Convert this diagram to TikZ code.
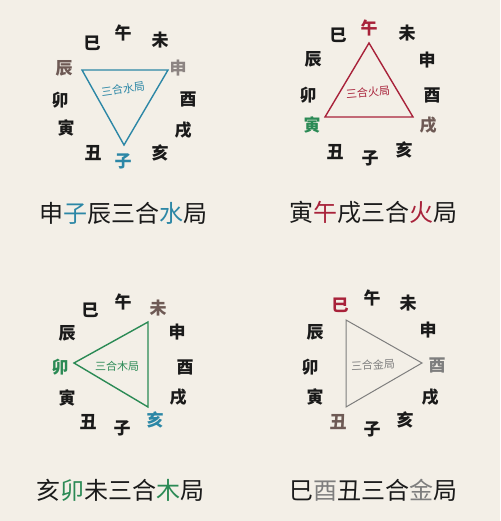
\documentclass[tikz,border=0pt]{standalone}
\usepackage{fontspec}
\newfontfamily\cjk{Noto Sans CJK SC}
\definecolor{bg}{HTML}{F3EFE7}
\definecolor{water}{HTML}{2C87A6}
\definecolor{fire}{HTML}{A8223A}
\definecolor{wood}{HTML}{2B8A55}
\definecolor{metal}{HTML}{7E7E7E}
\definecolor{brn}{HTML}{6E5A55}
\definecolor{lgray}{HTML}{8C8482}
\definecolor{ink}{HTML}{1A1A1A}
\tikzset{
  br/.style={font=\cjk\bfseries\fontsize{17}{17}\selectfont, text=ink, inner sep=0pt},
  captext/.style={font=\cjk\fontsize{24}{24}\selectfont, text=ink, inner sep=0pt},
  lab/.style={font=\cjk\fontsize{11}{11}\selectfont, inner sep=0pt},
  tri/.style={line width=1.4pt},
}
\begin{document}
\begin{tikzpicture}[x=1pt,y=-1pt]
\fill[bg] (0,0) rectangle (500,521);
\useasboundingbox (0,0) rectangle (500,521);
% ---------- panel 1: water
\node[br] (p1si) at (92,43) {巳};
\node[br] (p1wu) at (123,33) {午};
\node[br] (p1wei) at (160,40) {未};
\node[br, text=brn] (p1chen) at (64,68) {辰};
\node[br, text=lgray] (p1shen) at (178,68) {申};
\node[br] (p1mao) at (60,100) {卯};
\node[br] (p1you) at (188,99) {酉};
\node[br] (p1yin) at (66,128) {寅};
\node[br] (p1xu) at (183,130) {戌};
\node[br] (p1chou) at (93,153) {丑};
\node[br, text=water] (p1zi) at (123,161) {子};
\node[br] (p1hai) at (160,153) {亥};
\coordinate (p1a) at (82,70);
\coordinate (p1b) at (168,70);
\coordinate (p1c) at (124,145);
\draw[tri, water] (p1a) -- (p1b) -- (p1c) -- cycle;
\node[lab, text=water, rotate=8] (p1lab) at (123,89) {三合水局};
\node[captext] (p1cap) at (123,213) {申\textcolor{water}{子}辰三合\textcolor{water}{水}局};
% ---------- panel 2: fire
\node[br] (p2si) at (338,35) {巳};
\node[br, text=fire] (p2wu) at (369,28) {午};
\node[br] (p2wei) at (407,33) {未};
\node[br] (p2chen) at (313,59) {辰};
\node[br] (p2shen) at (427,60) {申};
\node[br] (p2mao) at (308,95) {卯};
\node[br] (p2you) at (432,95) {酉};
\node[br, text=wood] (p2yin) at (312,125) {寅};
\node[br, text=brn] (p2xu) at (428,125) {戌};
\node[br] (p2chou) at (335,152) {丑};
\node[br] (p2zi) at (370,158) {子};
\node[br] (p2hai) at (404,150) {亥};
\coordinate (p2a) at (369,43);
\coordinate (p2b) at (325,117);
\coordinate (p2c) at (413,117);
\draw[tri, fire] (p2a) -- (p2b) -- (p2c) -- cycle;
\node[lab, text=fire, rotate=5] (p2lab) at (368,92) {三合火局};
\node[captext] (p2cap) at (373,213) {寅\textcolor{fire}{午}戌三合\textcolor{fire}{火}局};
% ---------- panel 3: wood
\node[br] (p3si) at (90,310) {巳};
\node[br] (p3wu) at (123,302) {午};
\node[br, text=brn] (p3wei) at (158,308) {未};
\node[br] (p3chen) at (67,333) {辰};
\node[br] (p3shen) at (177,332) {申};
\node[br, text=wood] (p3mao) at (60,367) {卯};
\node[br] (p3you) at (185,367) {酉};
\node[br] (p3yin) at (67,398) {寅};
\node[br] (p3xu) at (178,397) {戌};
\node[br] (p3chou) at (88,422) {丑};
\node[br] (p3zi) at (122,428) {子};
\node[br, text=water] (p3hai) at (155,420) {亥};
\coordinate (p3a) at (148,322);
\coordinate (p3b) at (74,363);
\coordinate (p3c) at (148,407);
\draw[tri, wood] (p3a) -- (p3b) -- (p3c) -- cycle;
\node[lab, text=wood] (p3lab) at (117,366) {三合木局};
\node[captext] (p3cap) at (120,490) {亥\textcolor{wood}{卯}未三合\textcolor{wood}{木}局};
% ---------- panel 4: metal
\node[br, text=fire] (p4si) at (340,305) {巳};
\node[br] (p4wu) at (372,298) {午};
\node[br] (p4wei) at (408,303) {未};
\node[br] (p4chen) at (315,332) {辰};
\node[br] (p4shen) at (428,330) {申};
\node[br] (p4mao) at (310,367) {卯};
\node[br, text=metal] (p4you) at (437,365) {酉};
\node[br] (p4yin) at (315,397) {寅};
\node[br] (p4xu) at (430,397) {戌};
\node[br, text=brn] (p4chou) at (338,422) {丑};
\node[br] (p4zi) at (372,429) {子};
\node[br] (p4hai) at (405,420) {亥};
\coordinate (p4a) at (346,320);
\coordinate (p4b) at (422,363);
\coordinate (p4c) at (346,407);
\draw[tri, metal, line width=1pt] (p4a) -- (p4b) -- (p4c) -- cycle;
\node[lab, text=metal, rotate=3] (p4lab) at (373,365) {三合金局};
\node[captext] (p4cap) at (373,490) {巳\textcolor{metal}{酉}丑三合\textcolor{metal}{金}局};
\end{tikzpicture}
\end{document}
